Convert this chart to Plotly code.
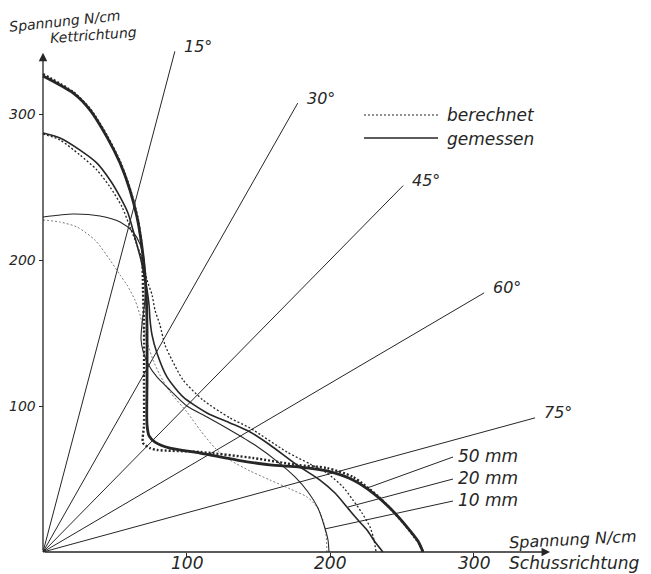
import math
import plotly.graph_objects as go

# ---------------- data ----------------
tick_values = [100, 200, 300]
tick_labels = ["100", "200", "300"]

angles_deg = [15, 30, 45, 60, 75]
angle_labels = ["15°", "30°", "45°", "60°", "75°"]
ray_length = 355

# 50 mm – gemessen (measured)
x_50_gem = [0, 20.9, 32.8, 44.6, 53.7, 60.6, 65.5, 68.3, 70.4, 71.8, 72.5, 72.5, 72.5, 73.9, 78.0,
            88.5, 109.4, 135.2, 158.2, 179.1, 197.9, 216.0, 230.0, 241.8, 253.7, 261.3, 264.8]
y_50_gem = [326.0, 314.4, 302.7, 284.2, 266.4, 247.9, 229.5, 213.7, 196.6, 179.5, 152.1, 117.8, 87.0, 79.5, 75.3,
            71.2, 67.8, 63.0, 59.6, 58.2, 55.5, 49.3, 40.4, 30.1, 17.1, 7.5, 0]
# 50 mm – berechnet (calculated)
x_50_ber = [0, 20.9, 32.8, 44.6, 53.7, 60.6, 66.2, 69.0, 69.7, 70.4, 70.4, 70.4, 69.7, 74.6, 79.4,
            109.4, 146.3, 177.0, 197.9, 216.0, 234.8, 252.3, 262.7, 264.8]
y_50_ber = [327.4, 315.1, 303.4, 284.9, 267.1, 248.6, 227.4, 206.8, 179.5, 152.1, 117.8, 87.0, 74.7, 71.2, 69.9,
            68.5, 64.4, 59.6, 57.5, 51.4, 37.0, 18.5, 4.8, 0]
# 20 mm – gemessen
x_20_gem = [0, 11.8, 25.8, 37.6, 46.7, 53.7, 59.2, 62.7, 65.5, 68.3, 70.4, 72.5, 73.9, 74.6, 76.0,
            79.4, 86.4, 97.6, 114.3, 130.3, 144.3, 158.2, 177.0, 193.0, 203.5, 211.8, 219.5, 225.8, 231.4, 236.9]
y_20_gem = [287.0, 283.6, 275.3, 266.4, 254.8, 243.2, 232.2, 220.5, 210.3, 200.0, 189.7, 179.5, 169.2, 158.9, 148.6,
            136.3, 119.9, 106.2, 95.2, 88.4, 82.2, 73.3, 59.6, 49.3, 40.4, 30.8, 21.9, 15.1, 6.8, 0]
# 20 mm – berechnet
x_20_ber = [0, 11.8, 25.8, 37.6, 46.7, 55.1, 60.6, 65.5, 69.7, 72.5, 76.0, 78.0, 81.5, 85.0, 89.9,
            97.6, 111.5, 130.3, 144.3, 170.0, 186.1, 197.9, 209.1, 216.0, 222.3, 227.9, 230.7, 232.1]
y_20_ber = [286.3, 282.2, 271.9, 261.6, 250.0, 236.3, 222.6, 210.3, 198.6, 186.3, 176.0, 165.8, 155.5, 141.8, 131.5,
            117.8, 104.1, 91.8, 84.9, 68.5, 60.3, 54.1, 44.5, 35.6, 26.7, 17.1, 8.2, 0]
# 10 mm – gemessen
x_10_gem = [0, 20.9, 39.7, 53.7, 62.7, 67.6, 70.4, 71.1, 71.1, 69.0, 68.3, 69.7, 73.2, 79.4, 88.5,
            100.3, 114.3, 130.3, 147.7, 163.8, 175.6, 184.7, 191.6, 195.8, 198.6, 199.3]
y_10_gem = [229.5, 231.5, 230.1, 226.0, 219.2, 211.0, 200.7, 190.4, 173.3, 156.2, 145.9, 137.7, 128.8, 119.9, 110.9,
            100.0, 92.5, 83.6, 73.3, 61.6, 51.4, 41.1, 30.1, 18.5, 8.2, 0]
# 10 mm – berechnet
x_10_ber = [0, 11.8, 23.7, 36.2, 46.7, 53.7, 58.5, 64.1, 67.6, 70.4, 73.2, 76.7, 81.5, 88.5, 100.3,
            109.4, 119.9, 130.3, 144.3, 158.2, 172.2, 184.0, 191.0, 195.1, 197.2, 197.9]
y_10_ber = [227.4, 226.0, 222.6, 213.7, 200.0, 189.7, 182.9, 172.6, 162.3, 152.1, 141.8, 131.5, 121.2, 109.6, 95.9,
            83.6, 71.2, 63.0, 55.5, 49.3, 43.2, 37.7, 30.8, 21.9, 11.6, 0]

series_labels = ["50 mm", "20 mm", "10 mm"]
legend_labels = ["berechnet", "gemessen"]

# ---------------- layout geometry ----------------
# the page body adds an 8 px offset, so the figure is 8 px smaller
OFF = 8
W, H = 651 - OFF, 574 - OFF
X0_PX, Y0_PX = 43, 552          # origin in reference-image pixels
SX, SY = 1.435, 1.46            # pixels per N/cm
ox, oy = X0_PX - OFF, Y0_PX - OFF
xr = [-ox / SX, (W - ox) / SX]
yr = [-(H - oy) / SY, oy / SY]

INK = "#262626"
FONT = "DejaVu Sans"


def px2x(p):
    return (p - X0_PX) / SX


def py2y(p):
    return (Y0_PX - p) / SY


fig = go.Figure()

# rays
for a in angles_deg:
    th = math.radians(a)
    fig.add_trace(go.Scatter(x=[0, ray_length * math.sin(th)], y=[0, ray_length * math.cos(th)],
                             mode="lines", line=dict(color=INK, width=1), hoverinfo="skip"))


def curve(x, y, width, dash, color=INK):
    fig.add_trace(go.Scatter(x=x, y=y, mode="lines",
                             line=dict(color=color, width=width, dash=dash, shape="spline", smoothing=0.7),
                             hoverinfo="skip"))


curve(x_10_ber, y_10_ber, 1.0, "2px,2px", "#7a7a7a")
curve(x_10_gem, y_10_gem, 1.1, "solid")
curve(x_20_ber, y_20_ber, 1.3, "2px,2px")
curve(x_20_gem, y_20_gem, 1.6, "solid")
curve(x_50_ber, y_50_ber, 2.4, "2px,2px")
curve(x_50_gem, y_50_gem, 2.8, "solid")

# legend samples
fig.add_trace(go.Scatter(x=[px2x(364), px2x(438)], y=[py2y(115)] * 2, mode="lines",
                         line=dict(color=INK, width=1.2, dash="2px,2px"), hoverinfo="skip"))
fig.add_trace(go.Scatter(x=[px2x(364), px2x(438)], y=[py2y(138)] * 2, mode="lines",
                         line=dict(color=INK, width=1.6), hoverinfo="skip"))

annotations = []
shapes = []


def txt(x, y, s, size, xanchor="center", angle=0, xshift=0, yshift=0):
    annotations.append(dict(x=x, y=y, xref="x", yref="y", text=s, showarrow=False,
                            xanchor=xanchor, yanchor="middle", textangle=angle,
                            xshift=xshift, yshift=yshift, borderpad=0,
                            font=dict(family=FONT, size=size, color=INK, style="italic")))


# tick labels
for v, lab in zip(tick_values, tick_labels):
    txt(v, py2y(562.5), lab, 17)
    txt(px2x(37), v, lab, 14, "right")

# legend texts
txt(px2x(446), py2y(115), legend_labels[0], 17, "left")
txt(px2x(446), py2y(139), legend_labels[1], 17, "left")

# angle labels
for a, lab in zip(angles_deg, angle_labels):
    th = math.radians(a)
    txt(ray_length * math.sin(th), ray_length * math.cos(th), lab, 16, "left", xshift=8, yshift=5)

# axis titles
txt(px2x(65), py2y(21), "Spannung N/cm", 14, angle=-6)
txt(px2x(93), py2y(35), "Kettrichtung", 14, angle=-4)
txt(px2x(573), py2y(539), "Spannung N/cm", 16, angle=-3)
txt(px2x(574), py2y(563), "Schussrichtung", 17)

# series labels + leader lines
label_y_px = [456, 478, 500]
leader_end = [(225.8, 43.8), (212.5, 30.8), (196.5, 15.8)]
for lab, ly, (ex, ey) in zip(series_labels, label_y_px, leader_end):
    txt(px2x(457), py2y(ly), lab, 17, "left")
    shapes.append(dict(type="line", xref="x", yref="y", x0=px2x(453), y0=py2y(ly + 1), x1=ex, y1=ey,
                       line=dict(color=INK, width=1)))

# axis arrows
annotations.append(dict(x=0, y=342, ax=0, ay=0, xref="x", yref="y", axref="x", ayref="y",
                        text="", showarrow=True, arrowhead=2, arrowsize=1.3, arrowwidth=1.3,
                        arrowcolor=INK, standoff=0, startstandoff=0))
annotations.append(dict(x=px2x(550), y=0, ax=0, ay=0, xref="x", yref="y", axref="x", ayref="y",
                        text="", showarrow=True, arrowhead=2, arrowsize=1.3, arrowwidth=1.3,
                        arrowcolor=INK, standoff=0, startstandoff=0))

fig.update_layout(
    width=W, height=H,
    margin=dict(l=0, r=0, t=0, b=0, pad=0),
    paper_bgcolor="white", plot_bgcolor="white",
    showlegend=False,
    annotations=annotations, shapes=shapes,
    xaxis=dict(range=xr, showgrid=False, zeroline=False, showline=False,
               tickvals=tick_values, ticks="outside", ticklen=4, showticklabels=False,
               tickcolor=INK, tickwidth=1,
               anchor="free", position=(0 - yr[0]) / (yr[1] - yr[0]), automargin=False),
    yaxis=dict(range=yr, showgrid=False, zeroline=False, showline=False,
               tickvals=tick_values, ticks="outside", ticklen=4, showticklabels=False,
               tickcolor=INK, tickwidth=1,
               anchor="free", position=(0 - xr[0]) / (xr[1] - xr[0]), automargin=False),
)

fig.write_html("out.html")
